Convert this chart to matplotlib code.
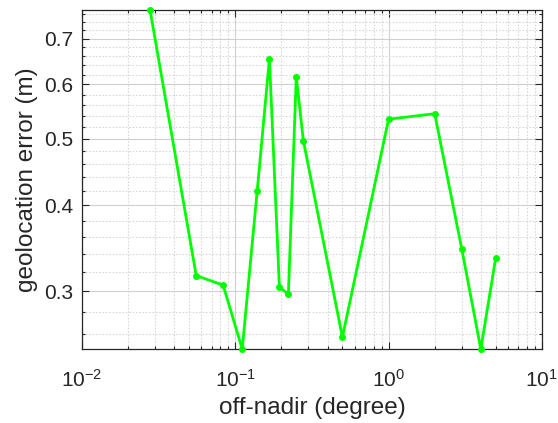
import matplotlib
matplotlib.use("Agg")
import matplotlib.pyplot as plt
from matplotlib.ticker import FixedLocator, MultipleLocator, LogLocator, NullFormatter, FormatStrFormatter

plt.rcParams['font.family'] = ['Liberation Sans', 'DejaVu Sans']
plt.rcParams['mathtext.fontset'] = 'custom'
plt.rcParams['mathtext.rm'] = 'Liberation Sans'
plt.rcParams['mathtext.it'] = 'Liberation Sans'

# off-nadir angle (degree) and geolocation error (m)
off_nadir = [0.0278, 0.0556, 0.0833, 0.111, 0.139, 0.167, 0.194, 0.222,
             0.25, 0.278, 0.5, 1.0, 2.0, 3.0, 4.0, 5.0]
geo_error = [0.77, 0.316, 0.306, 0.247, 0.420, 0.654, 0.304, 0.297,
             0.616, 0.497, 0.257, 0.534, 0.544, 0.346, 0.247, 0.335]
y_ticks = [0.3, 0.4, 0.5, 0.6, 0.7]

dark = '#262626'

fig = plt.figure(figsize=(5.58, 4.23), dpi=100)
ax = fig.add_axes([0.147, 0.175, 0.824, 0.801])

ax.plot(off_nadir, geo_error, '-', color=(0, 1, 0), lw=2.0,
        marker='o', markersize=4, zorder=3, clip_on=False)

ax.set_xscale('log')
ax.set_yscale('log')
ax.set_xlim(1e-2, 1e1)
ax.set_ylim(min(geo_error), max(geo_error))

ax.xaxis.set_major_locator(LogLocator(base=10, numticks=10))
ax.xaxis.set_minor_locator(LogLocator(base=10, subs=range(2, 10), numticks=20))
ax.xaxis.set_minor_formatter(NullFormatter())
ax.yaxis.set_major_locator(FixedLocator(y_ticks))
ax.yaxis.set_major_formatter(FormatStrFormatter('%g'))
ax.yaxis.set_minor_locator(MultipleLocator(0.02))
ax.yaxis.set_minor_formatter(NullFormatter())

ax.grid(True, which='major', color='#d0d0d0', lw=0.8, ls='-')
ax.grid(True, which='minor', color='#d8d8d8', lw=0.8, ls=(0, (1.5, 1.5)))
ax.set_axisbelow(True)

ax.tick_params(which='both', direction='in', top=True, right=True,
               colors=dark, labelsize=15, width=0.8)
ax.tick_params(which='major', length=5)
ax.tick_params(which='minor', length=2.5)
ax.tick_params(axis='x', pad=14)
ax.tick_params(axis='y', pad=6.5)
for s in ax.spines.values():
    s.set_color(dark)
    s.set_linewidth(0.9)

ax.set_xlabel('off-nadir (degree)', fontsize=17.5, color=dark, labelpad=5)
ax.set_ylabel('geolocation error (m)', fontsize=17.5, color=dark, labelpad=4)

fig.savefig('out.png', dpi=100)
